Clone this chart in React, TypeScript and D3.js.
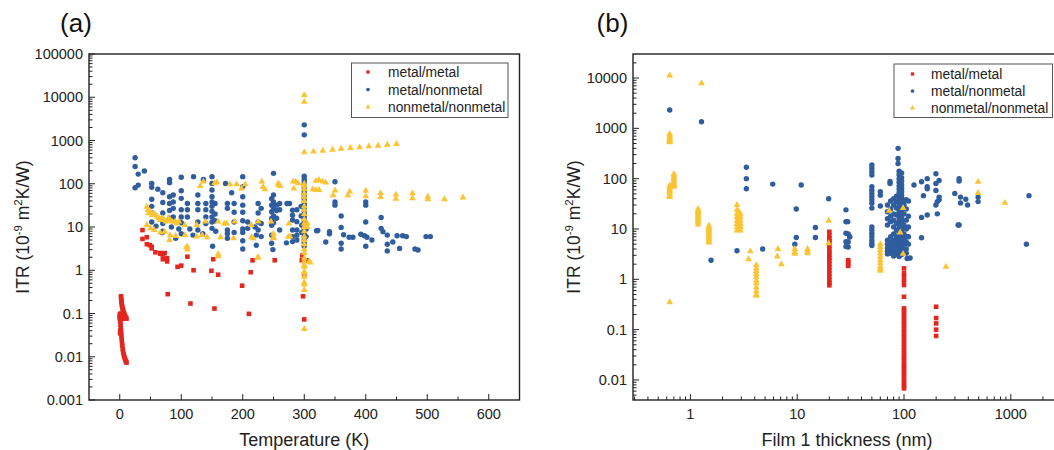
import React from 'react';
import * as d3 from 'd3';

// ---------- tick labels ----------
const yTickLabelsA = ['0.001', '0.01', '0.1', '1', '10', '100', '1000', '10000', '100000'];
const xTickLabelsA = ['0', '100', '200', '300', '400', '500', '600'];
const yTickLabelsB = ['0.01', '0.1', '1', '10', '100', '1000', '10000'];
const xTickLabelsB = ['1', '10', '100', '1000'];
const seriesNames = ['metal/metal', 'metal/nonmetal', 'nonmetal/nonmetal'];
const seriesColors = ['#e4261e', '#2f5d9e', '#fac434'];

// ---------- panel (a): Temperature (K) vs ITR ----------
const aMetalMetal: [number, number][] = [
  [2, 0.25], [2.3, 0.22], [2.6, 0.2], [3, 0.18], [3.4, 0.16], [4, 0.145], [4.6, 0.13], [5.3, 0.12], [6, 0.11], [7, 0.1], [8, 0.092], [9, 0.085], [10, 0.08], [11, 0.076],
  [0, 0.095], [0.3, 0.085], [0.6, 0.075], [1, 0.065], [1.3, 0.055], [1.6, 0.047], [2, 0.04], [2.4, 0.034], [2.8, 0.029], [3.2, 0.025], [3.7, 0.021], [4.2, 0.018], [4.8, 0.015], [5.5, 0.013], [6.3, 0.0115], [7.2, 0.0102], [8.2, 0.0092], [9.2, 0.0084], [10.2, 0.0078], [11, 0.0073],
  [0, 0.078], [1, 0.09], [2, 0.085], [3, 0.08], [4, 0.075], [5, 0.085], [6, 0.09], [8, 0.08], [1, 0.04], [0.5, 0.035], [1.5, 0.1],
  [37, 8.5], [37, 5.3], [44, 5.8], [44, 4.0], [49, 3.8], [52, 3.5], [52, 3.2], [58, 2.6], [66, 2.5], [66, 2.4], [70, 2.3], [73, 2.5], [70, 1.8], [77, 1.6], [77, 1.9],
  [78, 0.28], [94, 1.2], [100, 1.28], [110, 2.06], [120, 1.0], [115, 0.17], [152, 1.8], [149, 0.97], [160, 0.79], [154, 0.13], [199, 0.44], [210, 0.098], [213, 0.9], [216, 1.7], [252, 1.7],
  [296, 1.7], [297, 2.2], [298, 0.25], [300, 0.8], [300, 0.073], [304, 1.7],
];
const aMetalNonmetal: [number, number][] = [
  [25, 400], [25, 250], [30, 167], [40, 197], [25, 81], [30, 93],
  [52, 102], [52, 83], [52, 44], [52, 30], [52, 21], [52, 13], [59, 10.5], [62, 75], [69, 7.4],
  [70, 62], [70, 37], [70, 21], [70, 12], [70, 8],
  [81, 126], [81, 106], [81, 50], [81, 35], [81, 24], [81, 16], [84, 10],
  [87, 55], [87, 38], [87, 27], [87, 17], [91, 5.5], [96, 9],
  [100, 141], [100, 69], [100, 46], [100, 25], [100, 17], [100, 12.5], [100, 7],
  [110, 35], [110, 25], [110, 17], [114, 9], [120, 146], [119, 6.5],
  [127, 55], [127, 35], [127, 25], [127, 13], [127, 8.5], [136, 126], [135, 7],
  [140, 35], [140, 25], [140, 17], [140, 12],
  [150, 146], [150, 102], [150, 72], [150, 50], [150, 38], [150, 30], [150, 23], [150, 17], [150, 13], [150, 9.3], [155, 35], [155, 20], [155, 14], [151, 3.6], [156, 8],
  [172, 102], [175, 35], [175, 27], [175, 8.5], [175, 7], [175, 5.5], [182, 62], [186, 35], [186, 22], [186, 13], [186, 7.5],
  [200, 146], [200, 86], [200, 50], [200, 32], [200, 22], [200, 14], [200, 9], [200, 7.5], [200, 4.8], [200, 3.1], [208, 13], [208, 9.3],
  [220, 10], [222, 3.8], [222, 6.5], [225, 35], [225, 21], [225, 13], [225, 8.5], [230, 27], [230, 12], [230, 6],
  [250, 174], [247, 45], [247, 32], [247, 22.5], [247, 15.8], [247, 11], [247, 6.5], [247, 4.2], [249, 3.0], [250, 55], [250, 38], [250, 26], [250, 18], [250, 12.5], [255, 32], [255, 24], [255, 16],
  [260, 35], [260, 25], [260, 8.5], [271, 4.3], [272, 35], [276, 35], [281, 24.5], [281, 18.8], [281, 14.5], [281, 8.5], [281, 6], [281, 4.6],
  [288, 25], [288, 13.3], [288, 8.5], [288, 6.5], [288, 5],
  [300, 2300], [300, 1350], [300, 150], [300, 125], [300, 110], [300, 95], [300, 82], [300, 70], [300, 60], [300, 52], [300, 45], [300, 38], [300, 32], [300, 27], [300, 23], [300, 20], [300, 17], [300, 14], [300, 12], [300, 10], [300, 9], [300, 8], [300, 7], [300, 6], [300, 5], [300, 4.3], [300, 3.6],
  [296, 11], [303, 9], [303, 6], [296, 7.5], [295, 18], [295, 30],
  [320, 8.2], [322, 8.3], [335, 4.5], [341, 7], [341, 7.8], [350, 111], [350, 38], [350, 32], [360, 18], [360, 9.8], [360, 4.2], [360, 3.1], [364, 6.6], [373, 5.8], [379, 5.8],
  [392, 6.8], [398, 6.3], [400, 38], [400, 32], [400, 13], [400, 3.6], [402, 5.8], [410, 5.0], [425, 16.6], [425, 9.3], [428, 7.8], [435, 6.5], [435, 4], [435, 2.8],
  [444, 4.5], [451, 6.3], [455, 3.2], [460, 6.3], [466, 6], [480, 3.1], [485, 2.95], [498, 6], [505, 6],
];
const aNonmetalNonmetal: [number, number][] = [
  [44, 29.5], [46, 24.7], [47, 20.7], [50, 22.6], [53, 18.9], [55, 20.7], [58, 18.9], [61, 17.3], [64, 15.9], [66, 14.5], [69, 15.9], [72, 14.5], [75, 13.3], [79, 15.9], [82, 14.5], [85, 13.3], [90, 13.3], [93, 12.1], [96, 13.3], [106, 11.1],
  [44, 11.1], [50, 9.3], [56, 8.5], [66, 7.4], [73, 7.8], [82, 6.5], [91, 6.2], [81, 5.0], [106, 6.5], [110, 3.5], [110, 3.0], [108, 3.4],
  [125, 11.1], [125, 6.0], [139, 13.3], [142, 5.8], [160, 13.3], [164, 5.8], [170, 12.1], [174, 12.1], [185, 5.5], [187, 13.3], [214, 11.1], [214, 5.8], [225, 13.3], [225, 2.0],
  [246, 13.3], [250, 5.8], [275, 12], [277, 6], [160, 2.37], [160, 2.1], [224, 1.95], [217, 5.5], [250, 7], [250, 5.5], [274, 5.9], [134, 6.5],
  [131, 89], [136, 112], [154, 102], [158, 108], [179, 97], [190, 97], [198, 78], [204, 97], [231, 112], [233, 84], [236, 74], [258, 102], [261, 89], [286, 112], [290, 102], [283, 78], [258, 94], [282, 112],
  [300, 11200], [300, 7900], [300, 533], [300, 100], [300, 90], [300, 75], [300, 60], [300, 50], [300, 40], [300, 30], [300, 25], [300, 20], [300, 15], [300, 12], [300, 10], [300, 8], [300, 6], [300, 5], [300, 4], [300, 3], [300, 2.5], [300, 1.9], [300, 1.6], [300, 1.32], [300, 1.2], [300, 0.93], [300, 0.87], [300, 0.71], [300, 0.52], [300, 0.47], [300, 0.35], [300, 0.044],
  [308, 1.6], [310, 1.5], [305, 10], [305, 12],
  [315, 552], [330, 582], [346, 613], [360, 646], [375, 670], [390, 693], [405, 731], [420, 759], [435, 800], [450, 830],
  [314, 74.5], [319, 72], [319, 117], [324, 122], [330, 112], [335, 106], [324, 72], [350, 70], [347, 54], [371, 54], [374, 66], [400, 69], [400, 51], [424, 60], [424, 49],
  [449, 56], [449, 45], [476, 60], [476, 46], [501, 50], [501, 44], [528, 44], [558, 48],
];

// ---------- panel (b): Film 1 thickness (nm) vs ITR ----------
const bMetalMetal: [number, number][] = [
  [20, 8.8], [20, 7.5], [20, 6.5], [20, 5.9], [20, 5.2], [20, 4.6], [20, 4.0], [20, 3.5], [20, 3.1], [20, 2.7], [20, 2.35], [20, 2.05], [20, 1.75], [20, 1.5], [20, 1.3], [20, 1.12], [20, 0.95], [20, 0.85], [20, 0.76],
  [30, 2.4], [30, 2.2], [30, 2.0], [30, 1.85],
  [100, 1.65], [100, 1.32], [100, 1.13], [100, 0.94], [100, 0.77], [100, 0.45],
  [100, 0.265], [100, 0.24], [100, 0.215], [100, 0.19], [100, 0.17], [100, 0.15], [100, 0.135], [100, 0.12], [100, 0.105], [100, 0.093], [100, 0.082], [100, 0.072], [100, 0.064], [100, 0.056], [100, 0.05], [100, 0.044],
  [100, 0.039], [100, 0.034], [100, 0.03], [100, 0.027], [100, 0.024], [100, 0.021], [100, 0.019], [100, 0.017], [100, 0.015], [100, 0.0135], [100, 0.012], [100, 0.0105], [100, 0.0093], [100, 0.0083], [100, 0.0075], [100, 0.0068],
  [200, 0.285], [200, 0.17], [200, 0.133], [200, 0.1], [200, 0.075],
];
const bMetalNonmetal: [number, number][] = [
  [0.64, 2320], [1.27, 1350], [3.34, 169], [3.34, 100], [3.34, 63], [5.9, 78], [10.9, 75], [19.7, 40], [9.8, 25], [14.8, 10.7], [9.8, 6.8], [14.8, 6.8], [9.5, 5.0], [2.73, 3.7], [4.75, 4.0], [1.56, 2.4],
  [28.6, 24], [29.7, 14], [30, 8], [31, 7], [31, 6.9], [30, 5.5], [30, 4.4], [28.6, 13.9], [28.6, 8.2], [28.6, 5.6], [28.6, 4.5],
  [50, 187], [50, 161], [50, 138], [50, 118], [50, 69], [50, 59], [50, 51], [50, 44], [50, 38], [50, 32.5], [50, 26], [50, 11], [50, 9.5], [50, 8.2], [50, 7], [50, 6], [50, 5.2], [50, 4.7],
  [60, 55], [60, 47], [60, 28.7], [74, 88], [74, 80], [88, 400], [88, 251], [88, 200],
  [70, 30], [70, 22], [70, 16], [70, 12], [70, 6], [70, 5], [70, 4.2], [70, 3.6], [70, 3.2],
  [75, 36], [75, 25], [75, 18], [75, 14], [75, 7], [75, 5.5], [75, 4.6], [75, 3.8], [75, 3.3],
  [80, 40], [80, 30], [80, 20], [80, 15], [80, 11], [80, 8], [80, 6], [80, 5], [80, 4], [80, 3.4], [80, 2.9],
  [85, 45], [85, 35], [85, 26], [85, 19], [85, 13], [85, 9.5], [85, 7], [85, 5.8], [85, 4.8], [85, 3.9], [85, 3.1],
  [90, 140], [90, 120], [90, 100], [90, 85], [90, 72], [90, 62], [90, 53], [90, 46], [90, 40], [90, 35], [90, 30], [90, 26], [90, 22], [90, 19], [90, 16], [90, 14], [90, 12], [90, 10.5], [90, 9], [90, 8], [90, 7], [90, 6.2], [90, 5.5], [90, 4.8], [90, 4.2], [90, 3.7], [90, 3.2], [90, 2.85],
  [95, 130], [95, 105], [95, 90], [95, 75], [95, 63], [95, 55], [95, 47], [95, 41], [95, 36], [95, 31], [95, 27], [95, 23], [95, 20], [95, 17], [95, 15], [95, 13], [95, 11], [95, 9.5], [95, 8.2], [95, 7.2], [95, 6.3], [95, 5.5], [95, 4.8], [95, 4.2], [95, 3.6], [95, 3.1],
  [100, 37], [100, 30], [100, 20], [100, 12], [100, 8], [100, 6], [100, 5], [100, 4],
  [105, 38], [105, 25], [105, 15], [105, 10], [105, 7], [105, 5.5], [105, 4], [105, 3.3],
  [110, 36], [110, 18], [110, 11], [110, 7], [110, 5], [107, 2.6], [114, 2.65],
  [124, 75], [146, 87], [146, 17], [146, 6.7], [152, 46], [165, 100], [165, 69], [165, 63], [165, 19],
  [199, 125], [199, 80], [199, 58], [199, 30], [213, 92], [213, 43], [213, 38], [205, 35], [205, 20],
  [299, 51], [328, 100], [328, 90], [328, 12], [321, 12], [338, 43], [338, 33], [379, 39], [394, 30], [494, 43], [494, 35], [1480, 46], [1400, 5.0],
];
const bNonmetalNonmetal: [number, number][] = [
  [0.64, 11200], [1.27, 7900], [0.64, 775], [0.64, 720], [0.64, 665], [0.64, 620], [0.64, 585], [0.64, 550], [0.64, 528],
  [0.64, 73], [0.64, 68], [0.64, 63], [0.64, 58], [0.64, 54], [0.64, 50], [0.64, 46], [0.64, 43],
  [0.7, 124], [0.7, 114], [0.7, 105], [0.7, 98], [0.7, 91], [0.7, 84], [0.7, 78], [0.7, 73], [0.7, 69],
  [0.64, 0.35],
  [1.18, 25], [1.18, 23], [1.18, 21.5], [1.18, 20], [1.18, 18.5], [1.18, 17], [1.18, 16], [1.18, 14.6], [1.18, 13.6], [1.18, 12.3],
  [1.49, 11.6], [1.49, 10.8], [1.49, 10], [1.49, 9.3], [1.49, 8.6], [1.49, 7.9], [1.49, 7.3], [1.49, 6.8], [1.49, 6.3], [1.49, 5.8], [1.49, 5.4],
  [2.73, 30], [2.73, 24], [2.73, 20], [2.73, 17], [2.73, 14.6], [2.73, 12.6], [2.73, 10.8], [2.73, 9.3], [2.85, 22], [2.85, 18], [2.85, 15.5], [2.85, 13.5],
  [2.94, 20], [2.94, 17], [2.94, 14.6], [2.94, 12.6], [2.94, 10.8], [2.94, 9.3],
  [3.64, 3.6], [3.5, 2.5],
  [4.14, 1.92], [4.14, 1.65], [4.14, 1.46], [4.14, 1.28], [4.14, 1.12], [4.14, 0.95], [4.14, 0.83], [4.14, 0.69], [4.14, 0.58], [4.14, 0.5], [4.14, 0.47],
  [6.6, 4.0], [6.5, 2.85], [7.1, 2.0], [9.5, 4.0], [9.5, 3.5], [9.5, 3.2], [12.5, 4.0], [12.5, 3.6], [12.5, 3.3],
  [19.7, 14.6], [19.7, 5.2],
  [60, 5.0], [60, 4.4], [60, 3.8], [60, 3.3], [60, 2.8], [60, 2.4], [60, 2.1], [60, 1.8], [60, 1.6], [60, 1.47],
  [72.7, 23], [98, 26], [92, 8.5], [98, 3.2], [494, 87], [494, 52], [880, 33], [247, 1.78],
];

// ---------- geometry ----------
const W = 1054;
const H = 450;
const FONT = "Arial, 'Liberation Sans', Helvetica, sans-serif";
const boxA = { left: 89, right: 519.5, top: 54, bottom: 400 };
const boxB = { left: 633, right: 1056, top: 54, bottom: 400 };

const xA = d3.scaleLinear().domain([-50, 650]).range([boxA.left, boxA.right]);
const yA = d3.scaleLog().domain([0.001, 100000]).range([boxA.bottom, boxA.top]);
const xB = d3.scaleLog().domain([0.29, 2650]).range([boxB.left, boxB.right]);
const yB = d3.scaleLog().domain([0.004, 30000]).range([boxB.bottom, boxB.top]);

const shapes = [d3.symbolSquare, d3.symbolCircle, d3.symbolTriangle];
const markerPath = shapes.map((s, i) => d3.symbol(s, i === 2 ? 20 : i === 1 ? 23 : 21)());
const legendPath = shapes.map((s, i) => d3.symbol(s, i === 2 ? 11 : 11)());

function logMinor(domain: number[]) {
  const out: number[] = [];
  const lo = Math.floor(Math.log10(domain[0]));
  const hi = Math.ceil(Math.log10(domain[1]));
  for (let d = lo; d <= hi; d++) {
    for (let k = 2; k <= 9; k++) {
      const v = k * Math.pow(10, d);
      if (v > domain[0] && v < domain[1]) out.push(v);
    }
  }
  return out;
}

type Box = { left: number; right: number; top: number; bottom: number };

function Frame({ box, x, y, xMajor, xMinor, yMajor, yMinor, xLabels, yLabels }: any) {
  const b: Box = box;
  return (
    <g>
      {yMajor.map((v: number, i: number) => (
        <g key={'ym' + i}>
          <line x1={b.left} x2={b.left + 6} y1={y(v)} y2={y(v)} stroke="#222" strokeWidth={1} />
          <text x={b.left - 6} y={y(v) + 5} textAnchor="end" fontSize={14.5} fill="#222" fontFamily={FONT}>
            {yLabels[i]}
          </text>
        </g>
      ))}
      {yMinor.map((v: number, i: number) => (
        <line key={'yn' + i} x1={b.left} x2={b.left + 3.5} y1={y(v)} y2={y(v)} stroke="#222" strokeWidth={1} />
      ))}
      {xMajor.map((v: number, i: number) => (
        <g key={'xm' + i}>
          <line x1={x(v)} x2={x(v)} y1={b.bottom} y2={b.bottom - 6} stroke="#222" strokeWidth={1} />
          <text x={x(v)} y={418.5} textAnchor="middle" fontSize={14.5} fill="#222" fontFamily={FONT}>
            {xLabels[i]}
          </text>
        </g>
      ))}
      {xMinor.map((v: number, i: number) => (
        <line key={'xn' + i} x1={x(v)} x2={x(v)} y1={b.bottom} y2={b.bottom - 3.5} stroke="#222" strokeWidth={1} />
      ))}
      <rect x={b.left} y={b.top} width={b.right - b.left} height={b.bottom - b.top} fill="none" stroke="#222" strokeWidth={1.4} />
    </g>
  );
}

function Points({ series, x, y }: any) {
  return (
    <g>
      {series.map((pts: [number, number][], si: number) => (
        <g key={si} fill={seriesColors[si]}>
          {pts.map((p, i) => (
            <path key={i} d={markerPath[si] as string} transform={`translate(${x(p[0])},${y(p[1])})`} />
          ))}
        </g>
      ))}
    </g>
  );
}

function Legend({ left, right, top, bottom, markerX, textX, rows }: any) {
  return (
    <g>
      <rect x={left} y={top} width={right - left} height={bottom - top} fill="#fff" stroke="#555" strokeWidth={1} />
      {seriesNames.map((name, i) => (
        <g key={i}>
          <path d={legendPath[i] as string} fill={seriesColors[i]} transform={`translate(${markerX},${rows[i]})`} />
          <text x={textX} y={rows[i] + 5} fontSize={13.8} fill="#222" fontFamily={FONT}>
            {name}
          </text>
        </g>
      ))}
    </g>
  );
}

function YTitle({ x, y }: { x: number; y: number }) {
  return (
    <text transform={`translate(${x},${y}) rotate(-90)`} textAnchor="middle" fontSize={17.5} fill="#222" fontFamily={FONT}>
      ITR (10
      <tspan dy={-7} fontSize={11.5}>-9</tspan>
      <tspan dy={7}> m</tspan>
      <tspan dy={-7} fontSize={11.5}>2</tspan>
      <tspan dy={7}>K/W)</tspan>
    </text>
  );
}

export default function App() {
  const xMajorA = xTickLabelsA.map(Number);
  const xMinorA = d3.range(-50, 651, 100).filter((v) => v > -50 && v < 650);
  const yMajorA = yTickLabelsA.map(Number);
  const yMinorA = logMinor(yA.domain());
  const xMajorB = xTickLabelsB.map(Number);
  const xMinorB = logMinor(xB.domain());
  const yMajorB = yTickLabelsB.map(Number);
  const yMinorB = logMinor(yB.domain());

  return (
    <svg width={W} height={H} style={{ position: 'absolute', left: 0, top: 0, background: '#fff' }}>
      <rect x={0} y={0} width={W} height={H} fill="#fff" />
      {/* Panel (a) */}
      <text x={76} y={32} textAnchor="middle" fontSize={26} fill="#111" fontFamily={FONT}>(a)</text>
      <Points series={[aMetalMetal, aMetalNonmetal, aNonmetalNonmetal]} x={xA} y={yA} />
      <Frame box={boxA} x={xA} y={yA} xMajor={xMajorA} xMinor={xMinorA} yMajor={yMajorA} yMinor={yMinorA} xLabels={xTickLabelsA} yLabels={yTickLabelsA} />
      <Legend left={351.5} right={508} top={63} bottom={117.5} markerX={368} textX={388} rows={[72, 89.5, 107]} />
      <YTitle x={28.5} y={227} />
      <text x={(boxA.left + boxA.right) / 2} y={446} textAnchor="middle" fontSize={18} fill="#222" fontFamily={FONT}>Temperature (K)</text>

      {/* Panel (b) */}
      <text x={612.5} y={32} textAnchor="middle" fontSize={26} fill="#111" fontFamily={FONT}>(b)</text>
      <Points series={[bMetalMetal, bMetalNonmetal, bNonmetalNonmetal]} x={xB} y={yB} />
      <Frame box={boxB} x={xB} y={yB} xMajor={xMajorB} xMinor={xMinorB} yMajor={yMajorB} yMinor={yMinorB} xLabels={xTickLabelsB} yLabels={yTickLabelsB} />
      <Legend left={894} right={1052.5} top={64} bottom={117.5} markerX={912.5} textX={931} rows={[74, 91, 108]} />
      <YTitle x={579.5} y={227} />
      <text x={847} y={446} textAnchor="middle" fontSize={18} fill="#222" fontFamily={FONT}>Film 1 thickness (nm)</text>
    </svg>
  );
}
